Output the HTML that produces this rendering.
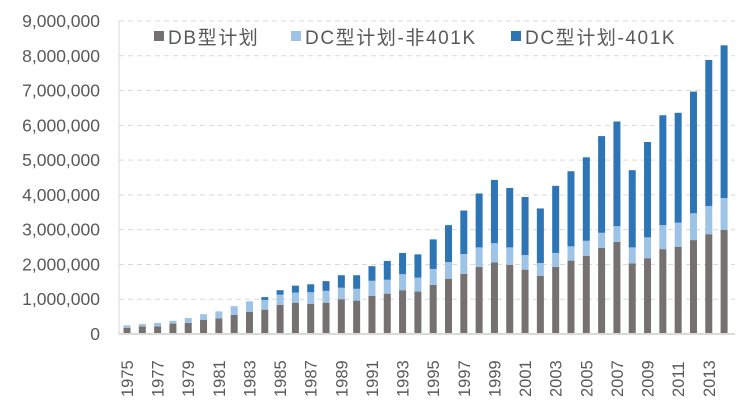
<!DOCTYPE html>
<html><head><meta charset="utf-8"><style>
body{margin:0;background:#fff}
svg text{font-family:"Liberation Sans","Noto Sans CJK SC",sans-serif;fill:#595959}
</style></head><body>
<svg width="738" height="405">
<g id="grid"></g><g id="bars"></g><g id="axes"></g>
<g font-size="19" letter-spacing="1.6">
<g><rect x="154" y="31" width="10" height="10" fill="#767171"/><text x="168" y="44">DB型计划</text></g>
<g><rect x="291" y="31" width="10" height="10" fill="#9dc3e6"/><text x="305" y="44">DC型计划-非401K</text></g>
<g><rect x="511" y="31" width="10" height="10" fill="#2e75b6"/><text x="525" y="44">DC型计划-401K</text></g>
</g>
</svg>
<script>
const years=[];for(let y=1975;y<=2014;y++)years.push(y);
const dbValues=[0.18,0.22,0.22,0.30,0.32,0.41,0.45,0.55,0.64,0.70,0.84,0.90,0.87,0.90,1.00,0.96,1.10,1.16,1.26,1.22,1.41,1.59,1.73,1.93,2.06,1.99,1.85,1.67,1.93,2.11,2.25,2.48,2.65,2.03,2.18,2.44,2.51,2.70,2.87,2.99];
const dcNon401kValues=[0.07,0.07,0.10,0.08,0.14,0.16,0.20,0.25,0.30,0.28,0.29,0.29,0.33,0.34,0.33,0.34,0.43,0.40,0.46,0.40,0.46,0.48,0.57,0.56,0.55,0.50,0.42,0.37,0.40,0.41,0.43,0.43,0.45,0.46,0.60,0.69,0.69,0.77,0.81,0.92];
const dc401kValues=[0,0,0,0,0,0,0,0,0,0.08,0.13,0.20,0.23,0.28,0.36,0.39,0.42,0.54,0.61,0.67,0.85,1.06,1.25,1.55,1.82,1.71,1.67,1.57,1.93,2.16,2.40,2.78,3.01,2.22,2.74,3.16,3.16,3.50,4.20,4.39];
const yTicks=[0,1,2,3,4,5,6,7,8,9];
const yTickLabels=["0","1,000,000","2,000,000","3,000,000","4,000,000","5,000,000","6,000,000","7,000,000","8,000,000","9,000,000"];
const NS="http://www.w3.org/2000/svg";
const y0=334,pxPerM=34.78,x0=127,step=15.31,bw=7;
const yS=v=>y0-v*pxPerM, xS=i=>x0+i*step;
function mk(tag,attrs,parent){const e=document.createElementNS(NS,tag);for(const k in attrs)e.setAttribute(k,attrs[k]);parent.appendChild(e);return e;}
const grid=document.getElementById('grid'),bars=document.getElementById('bars'),axes=document.getElementById('axes');
yTicks.forEach((t,i)=>{
 if(t>0){const l=mk('line',{x1:119,x2:735,y1:yS(t),y2:yS(t),stroke:'#d9d9d9','stroke-dasharray':'5,4'},grid);
 
 }
 const tx=mk('text',{x:100,y:yS(t)+6,'text-anchor':'end','font-size':17.5},axes);tx.textContent=yTickLabels[i];
 
 
});
const series=[[dbValues,'#767171','db'],[dcNon401kValues,'#9dc3e6','dc-non401k'],[dc401kValues,'#2e75b6','dc-401k']];
years.forEach((yr,i)=>{
 let base=0;
 series.forEach(([arr,c,n])=>{const v=arr[i];if(v<=0)return;
  const r=mk('rect',{x:xS(i)-bw/2,y:yS(base+v),width:bw,height:v*pxPerM,fill:c},bars);
  
  
  base+=v;});
 if(i%2===0){const t=mk('text',{transform:`translate(${xS(i)+6},397) rotate(-90)`,'font-size':16.5},axes);t.textContent=yr;
  
  }
});
const ax=mk('line',{x1:119,x2:735,y1:y0,y2:y0,stroke:'#d9d9d9','stroke-width':2},axes);


const ay=mk('line',{x1:119,x2:119,y1:21,y2:y0,stroke:'#d9d9d9'},axes);


</script>
</body></html>
